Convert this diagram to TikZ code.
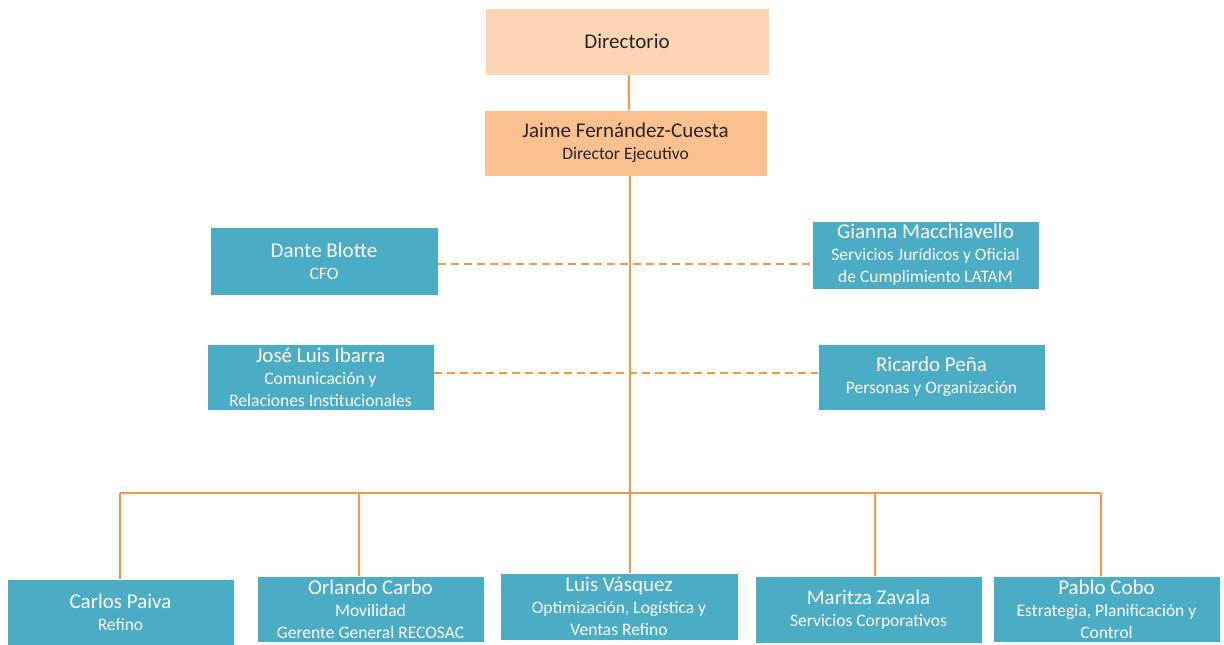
\documentclass[tikz,border=0pt]{standalone}
\usepackage{fontspec}
\setmainfont{Carlito}
\definecolor{peachA}{HTML}{FCD5B4}
\definecolor{peachB}{HTML}{FAC090}
\definecolor{teal}{HTML}{4BACC6}
\definecolor{orangeline}{HTML}{F79646}
\definecolor{darktext}{HTML}{262626}
\tikzset{
  orgbox/.style={draw=white, line width=0.8pt, inner sep=0pt, align=center, font=\fontsize{17.5}{22}\selectfont},
  topbox/.style={orgbox, text=darktext},
  tealbox/.style={orgbox, fill=teal, text=white},
  spine/.style={draw=orangeline, line width=2.6pt},
  drop/.style={draw=orangeline, line width=1.6pt},
  dashline/.style={draw=orangeline, line width=2.4pt, dash pattern=on 8pt off 5pt}
}
\newcommand{\nmtext}[1]{{\fontsize{21}{22}\selectfont #1}}
\begin{document}
\begin{tikzpicture}[x=1pt,y=-1pt]
\useasboundingbox (0,0) rectangle (1224,645);
% top boxes
\node[topbox, fill=peachA, minimum width=284pt, minimum height=67pt] (dir) at (627,41.5) {\nmtext{Directorio}};
\node[topbox, fill=peachB, minimum width=283pt, minimum height=66pt] (jaime) at (625.5,143) {\nmtext{Jaime Fernández-Cuesta}\\Director Ejecutivo};
% staff
\node[tealbox, minimum width=228pt, minimum height=68pt] (dante) at (324,261) {\nmtext{Dante Blotte}\\CFO};
\node[tealbox, minimum width=227pt, minimum height=68pt] (gianna) at (925.5,255) {\nmtext{Gianna Macchiavello}\\Servicios Jurídicos y Oficial\\de Cumplimiento LATAM};
\node[tealbox, minimum width=227pt, minimum height=66pt] (jose) at (320.5,377) {\nmtext{José Luis Ibarra}\\Comunicación y\\Relaciones Institucionales};
\node[tealbox, minimum width=227pt, minimum height=66pt] (ricardo) at (931.5,377) {\nmtext{Ricardo Peña}\\Personas y Organización};
% bottom row
\node[tealbox, minimum width=227pt, minimum height=66pt] (carlos) at (120.5,612) {\nmtext{Carlos Paiva}\\Refino};
\node[tealbox, minimum width=227pt, minimum height=66pt] (orlando) at (370.5,609) {\nmtext{Orlando Carbo}\\Movilidad\\Gerente General RECOSAC};
\node[tealbox, minimum width=238pt, minimum height=67pt] (luis) at (619,606.5) {\nmtext{Luis Vásquez}\\Optimización, Logística y\\Ventas Refino};
\node[tealbox, minimum width=227pt, minimum height=67pt] (maritza) at (868.5,609.5) {\nmtext{Maritza Zavala}\\Servicios Corporativos};
\node[tealbox, minimum width=227pt, minimum height=66pt] (pablo) at (1106.5,609) {\nmtext{Pablo Cobo}\\Estrategia, Planificación y\\Control};
% helper coordinates
\coordinate (sp) at (629,0);
\coordinate (d1) at (0,264);
\coordinate (d2) at (0,373);
\coordinate (c1) at (120,493);
\coordinate (c2) at (359,493);
\coordinate (c3) at (630,493);
\coordinate (c4) at (875,493);
\coordinate (c5) at (1101,493);
% dashed staff lines
\draw[dashline] (dante.east |- d1) -- (gianna.west |- d1);
\draw[dashline] (jose.east |- d2) -- (ricardo.west |- d2);
% spine
\draw[spine] (dir.south -| sp) -- (jaime.north -| sp);
\draw[spine] (jaime.south -| c3) -- (luis.north -| c3);
\draw[spine] (c1) -- (c5);
% drops
\draw[drop] (c1) -- (c1 |- carlos.north);
\draw[drop] (c2) -- (c2 |- orlando.north);
\draw[drop] (c4) -- (c4 |- maritza.north);
\draw[drop] (c5) -- (c5 |- pablo.north);
\end{tikzpicture}
\end{document}
